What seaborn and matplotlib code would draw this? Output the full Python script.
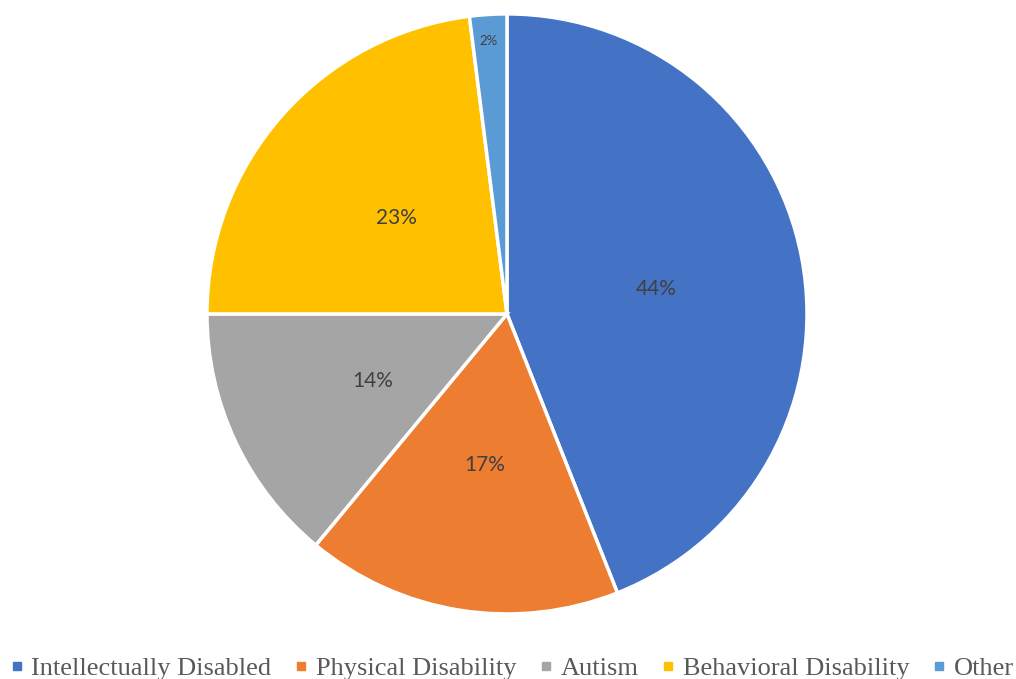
import matplotlib
matplotlib.use("Agg")
import matplotlib.pyplot as plt
from matplotlib.lines import Line2D
import seaborn as sns

categories = ["Intellectually Disabled", "Physical Disability", "Autism",
              "Behavioral Disability", "Other"]
values = [44, 17, 14, 23, 2]
colors = ["#4472C4", "#ED7D31", "#A5A5A5", "#FFC000", "#5B9BD5"]

sns.set_style("white")
palette = sns.color_palette(colors)

fig = plt.figure(figsize=(10.16, 6.79), dpi=100)
ax = fig.add_axes([0.2037, 0.0958, 0.5906, 0.8837])

wedges, texts, autotexts = ax.pie(
    values, colors=palette, startangle=90, counterclock=False,
    autopct="%1.0f%%", pctdistance=0.5,
    wedgeprops=dict(edgecolor="white", linewidth=2.5),
    textprops=dict(color="#404040", fontsize=15, family=["Lato", "DejaVu Sans"]))
for t in autotexts[:-1]:
    x, y = t.get_position()
    t.set_position((x + 0.005, y - 0.011))
autotexts[-1].set_fontsize(9.5)
autotexts[-1].set_position((-0.06, 0.91))
ax.set_xlim(-1, 1)
ax.set_ylim(-1, 1)
ax.set_aspect("equal")
ax.axis("off")

handles = [Line2D([0], [0], marker="s", linestyle="none", markersize=6,
                  markerfacecolor=c, markeredgecolor=c) for c in colors]
fig.legend(handles, categories, loc="center", bbox_to_anchor=(0.504, 0.016),
           ncol=5, frameon=False, handlelength=0.5, handletextpad=0.3,
           columnspacing=0.88, prop=dict(family="Liberation Serif", size=19),
           labelcolor="#595959", borderpad=0.1)

fig.savefig("out.png", dpi=100)
